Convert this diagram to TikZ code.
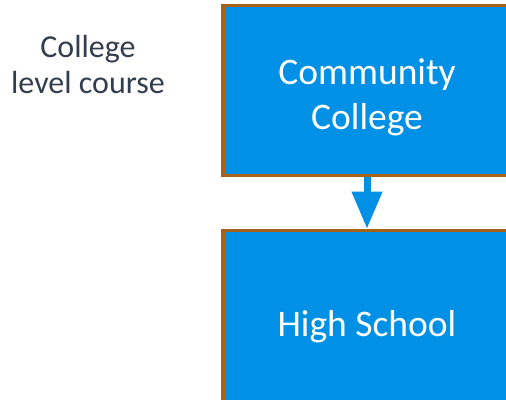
\documentclass[tikz,border=0pt]{standalone}
\usepackage{fontspec}
\setmainfont{Carlito}
\usetikzlibrary{arrows.meta,positioning}
\definecolor{boxblue}{RGB}{0,145,230}
\definecolor{boxedge}{RGB}{168,98,24}
\definecolor{labelgrey}{RGB}{50,62,79}

\begin{document}
\begin{tikzpicture}[x=1pt,y=1pt,node distance=51.5pt,
    box/.style={rectangle,fill=boxblue,draw=boxedge,line width=3.5pt,
      minimum width=288pt,minimum height=170pt,text=white,align=center,
      font=\fontsize{37.5}{45}\selectfont}]
           \useasboundingbox (0,0) rectangle (506,399);
           \node [box, text height=85pt] (cc) at (367,308.5) {Community\\College};
           \node [box, text height=42pt, minimum height=176pt, below=of cc] (hs) {High School};
           \node [align=center, text=labelgrey, font=\fontsize{32}{36}\selectfont]
                 (lvl) at (88,334) {College\\level course};
           \draw [boxblue, line width=7pt, -{Triangle[width=29pt,length=37pt]}] (cc) -- (hs);
      \end{tikzpicture}
\end{document}
